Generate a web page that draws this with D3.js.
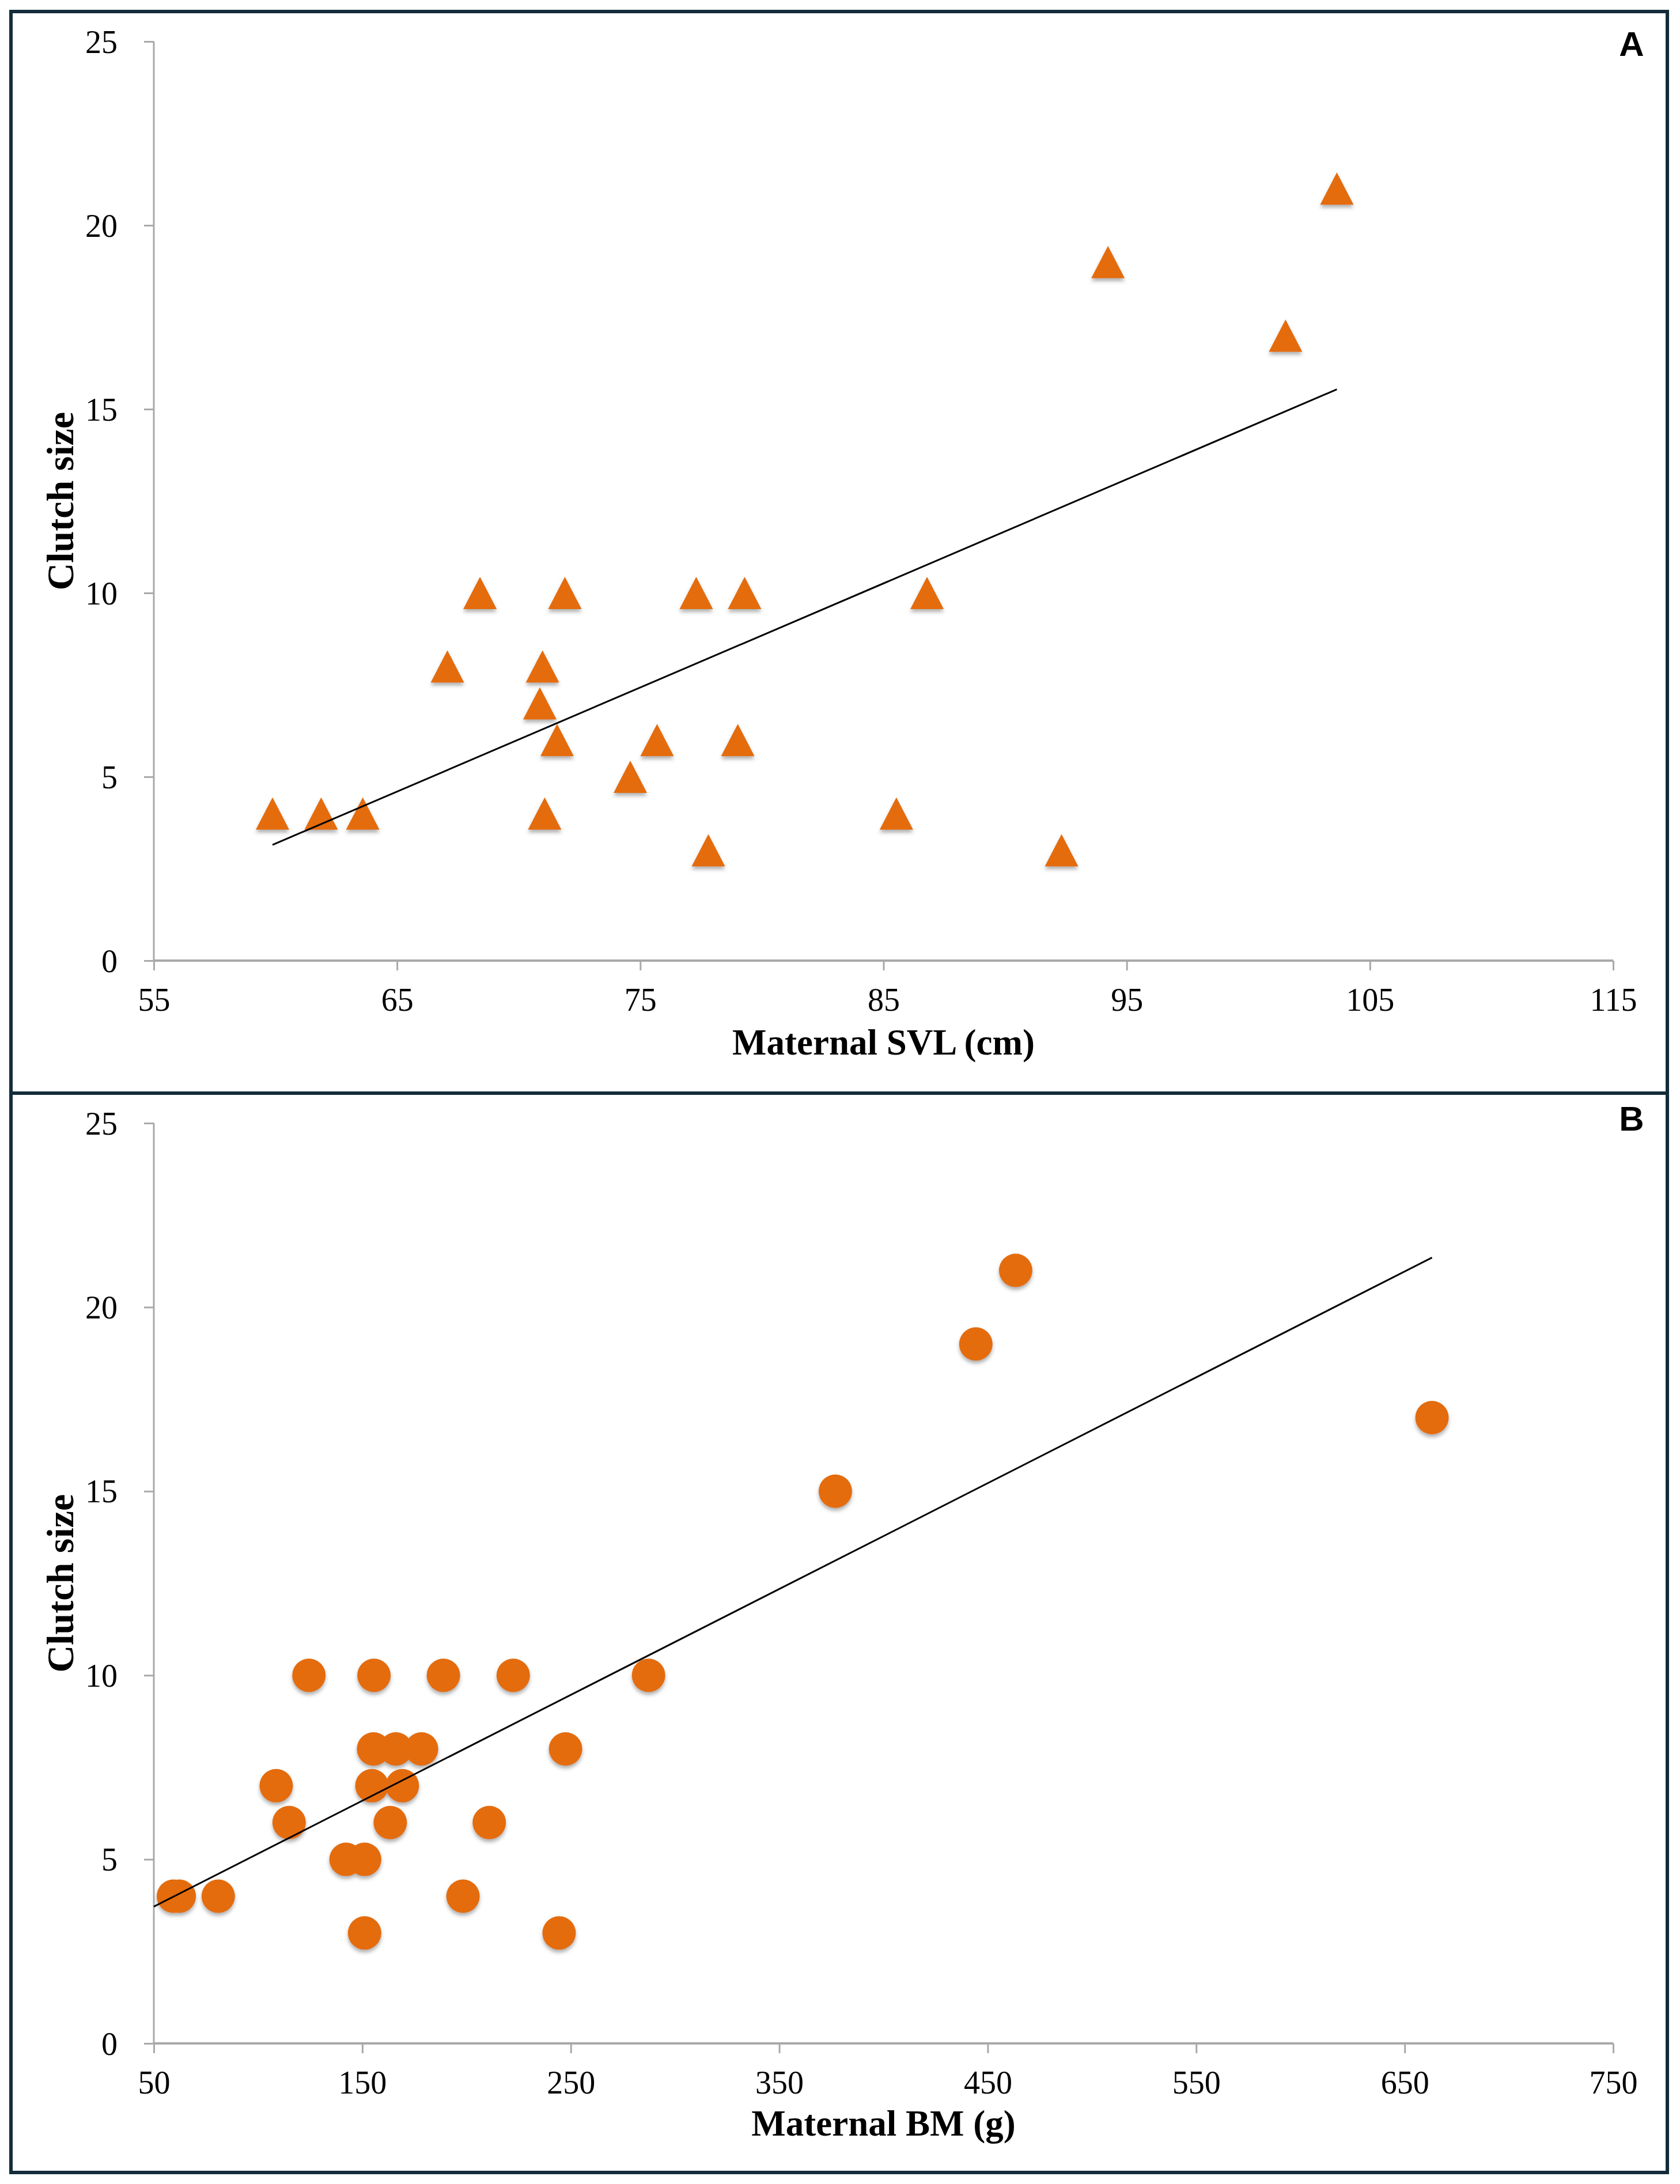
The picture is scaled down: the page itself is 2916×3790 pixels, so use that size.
<!DOCTYPE html>
<html>
<head>
<meta charset="utf-8">
<script src="https://cdn.jsdelivr.net/npm/d3@7"></script>
<style>
  html, body { margin: 0; padding: 0; background: #fff; }
  svg { display: block; }
</style>
</head>
<body>
<div id="chart"></div>
<script>
// ---------- DATA ----------
// Panel A: Maternal SVL (cm) vs clutch size
const svlA = [59.88, 61.88, 63.59, 67.07, 68.41, 70.87, 70.98, 71.07, 71.58, 71.9, 74.59,
              75.69, 77.3, 77.8, 79.01, 79.29, 85.53, 86.79, 92.32, 94.23, 101.53, 103.64];
const clutchA = [4, 4, 4, 8, 10, 7, 8, 4, 6, 10, 5,
                 6, 10, 3, 6, 10, 4, 10, 3, 19, 17, 21];

// Panel B: Maternal BM (g) vs clutch size
const bmB = [124.4, 155.6, 188.9, 222.4, 287.3,
             155.4, 166.1, 178.4, 247.5,
             108.7, 154.6, 169.2,
             114.9, 163.4, 210.9,
             142.2, 151.1,
             59.4, 62.2, 80.9, 198.3,
             151.1, 244.4,
             376.9, 444.3, 463.4, 663.1];
const clutchB = [10, 10, 10, 10, 10,
                 8, 8, 8, 8,
                 7, 7, 7,
                 6, 6, 6,
                 5, 5,
                 4, 4, 4, 4,
                 3, 3,
                 15, 19, 21, 17];

const yTicks = [0, 5, 10, 15, 20, 25];
const xTicksA = [55, 65, 75, 85, 95, 105, 115];
const xTicksB = [50, 150, 250, 350, 450, 550, 650, 750];

const yTitle = "Clutch size";
const xTitleA = "Maternal SVL (cm)";
const xTitleB = "Maternal BM (g)";
const panelLabels = ["A", "B"];

// ---------- LAYOUT ----------
const W = 2916, H = 3790;
const ORANGE = "#e46c0a";
const AXIS = "#a9a9a9";
const BORDER = "#132c3a";
const serif = "'Liberation Serif', 'Times New Roman', serif";
const sans = "'Liberation Sans', Arial, sans-serif";

const svg = d3.select("#chart").append("svg")
  .attr("width", W).attr("height", H)
  .attr("viewBox", `0 0 ${W} ${H}`);

svg.append("rect").attr("width", W).attr("height", H).attr("fill", "#fff");

const defs = svg.append("defs");
const f = defs.append("filter").attr("id", "shadow")
  .attr("x", "-30%").attr("y", "-30%").attr("width", "160%").attr("height", "170%");
f.append("feDropShadow").attr("dx", 0).attr("dy", 5).attr("stdDeviation", 3)
  .attr("flood-color", "#555").attr("flood-opacity", 0.45);

function linreg(xs, ys) {
  const mx = d3.mean(xs), my = d3.mean(ys);
  let sxy = 0, sxx = 0;
  xs.forEach((x, i) => { sxy += (x - mx) * (ys[i] - my); sxx += (x - mx) * (x - mx); });
  const b = sxy / sxx;
  return { a: my - b * mx, b };
}

const panels = [
  { top: 20, bottom: 1897, y0: 1667, y25: 72, xs: svlA, ys: clutchA, ticks: xTicksA,
    dom: [55, 115], title: xTitleA, label: panelLabels[0], shape: "tri",
    trendFrom: "data", labelBase: 97, titleBase: 1830 },
  { top: 1897, bottom: 3770, y0: 3546, y25: 1949, xs: bmB, ys: clutchB, ticks: xTicksB,
    dom: [50, 750], title: xTitleB, label: panelLabels[1], shape: "circle",
    trendFrom: "axis", labelBase: 1962, titleBase: 3706 }
];

const xLeft = 267, xRight = 2800;

panels.forEach(p => {
  const g = svg.append("g");
  // panel frame
  g.append("rect")
    .attr("x", 19).attr("y", p.top)
    .attr("width", 2894 - 19).attr("height", p.bottom - p.top)
    .attr("fill", "none").attr("stroke", BORDER).attr("stroke-width", 6);

  const x = d3.scaleLinear().domain(p.dom).range([xLeft, xRight]);
  const y = d3.scaleLinear().domain([0, 25]).range([p.y0, p.y25]);

  // y axis
  const yAxis = d3.axisLeft(y).tickValues(yTicks).tickSize(17).tickPadding(46).tickFormat(d3.format("d"));
  const ya = g.append("g").attr("transform", `translate(${xLeft},0)`).call(yAxis);
  ya.select(".domain").attr("stroke", AXIS).attr("stroke-width", 3)
    .attr("d", `M-0,${p.y25}V${p.y0}`);
  ya.selectAll(".tick line").attr("stroke", AXIS).attr("stroke-width", 3);
  ya.selectAll(".tick text").attr("font-family", serif).attr("font-size", 56)
    .attr("fill", "#000").attr("dy", "0.34em");

  // x axis
  const xAxis = d3.axisBottom(x).tickValues(p.ticks).tickSize(17).tickPadding(30).tickFormat(d3.format("d"));
  const xa = g.append("g").attr("transform", `translate(0,${p.y0})`).call(xAxis);
  xa.select(".domain").attr("stroke", AXIS).attr("stroke-width", 4)
    .attr("d", `M${xLeft},0H${xRight}`);
  xa.selectAll(".tick line").attr("stroke", AXIS).attr("stroke-width", 3);
  xa.selectAll(".tick text").attr("font-family", serif).attr("font-size", 56)
    .attr("fill", "#000");

  // axis titles
  g.append("text")
    .attr("x", (xLeft + xRight) / 2).attr("y", p.titleBase)
    .attr("text-anchor", "middle")
    .attr("font-family", serif).attr("font-weight", "bold").attr("font-size", 63)
    .text(p.title);
  g.append("text")
    .attr("transform", `translate(127,${(p.y0 + p.y25) / 2}) rotate(-90)`)
    .attr("text-anchor", "middle")
    .attr("font-family", serif).attr("font-weight", "bold").attr("font-size", 66)
    .text(yTitle);

  // panel label
  g.append("text")
    .attr("x", 2832).attr("y", p.labelBase)
    .attr("text-anchor", "middle")
    .attr("font-family", sans).attr("font-weight", "bold").attr("font-size", 60)
    .text(p.label);

  // points
  const pts = p.xs.map((v, i) => ({ x: v, y: p.ys[i] }));
  const mg = g.append("g").attr("filter", "url(#shadow)");
  if (p.shape === "tri") {
    mg.selectAll("path").data(pts).join("path")
      .attr("transform", d => `translate(${x(d.x)},${y(d.y)})`)
      .attr("d", "M0,-28L29,28L-29,28Z")
      .attr("fill", ORANGE);
  } else {
    mg.selectAll("circle").data(pts).join("circle")
      .attr("cx", d => x(d.x)).attr("cy", d => y(d.y))
      .attr("r", 29)
      .attr("fill", ORANGE);
  }

  // linear trendline (least squares)
  const r = linreg(p.xs, p.ys);
  const x0 = p.trendFrom === "axis" ? p.dom[0] : d3.min(p.xs);
  const x1 = d3.max(p.xs);
  g.append("line")
    .attr("x1", x(x0)).attr("y1", y(r.a + r.b * x0))
    .attr("x2", x(x1)).attr("y2", y(r.a + r.b * x1))
    .attr("stroke", "#000").attr("stroke-width", 3);
});
</script>
</body>
</html>
